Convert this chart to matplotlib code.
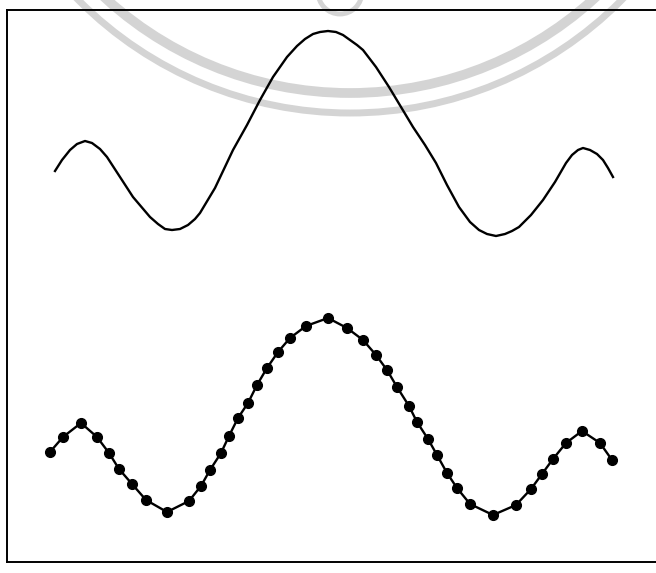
import numpy as np
import matplotlib.pyplot as plt
from matplotlib.patches import Arc

# top trace (smooth response), positions
x_top = [55, 62, 70, 77, 85, 92, 100, 107, 120, 133, 150, 158, 165, 172, 180,
         188, 195, 200, 215, 233, 247, 260, 273, 287, 297, 305, 313, 320, 328,
         336, 343, 350, 357, 363, 376, 389, 401, 413, 425, 436, 447, 459, 470,
         479, 487, 496, 505, 512, 519, 531, 543, 555, 566, 572, 578, 583, 590,
         597, 603, 608, 613]
y_top = [402, 413, 423, 429, 432, 430, 424, 416, 396, 376, 356, 349, 344, 343,
         344, 348, 354, 360, 385, 423, 448, 473, 496, 516, 527, 534, 539, 541,
         542, 541, 538, 533, 528, 523, 506, 486, 466, 446, 428, 410, 388, 366,
         351, 343, 339, 337, 339, 342, 346, 358, 373, 391, 410, 418, 423, 425,
         423, 419, 413, 405, 396]

# bottom trace (sampled points)
x_bot = [50, 63, 81, 97, 109, 119, 132, 146, 167, 189, 201, 210, 221, 229, 238,
         248, 257, 267, 278, 290, 306, 328, 347, 363, 376, 387, 397, 409, 417,
         428, 437, 447, 457, 470, 493, 516, 531, 542, 553, 566, 582, 600, 612]
y_bot = [121, 136, 150, 136, 120, 104, 89, 73, 61, 72, 87, 103, 120, 137, 155,
         170, 188, 205, 221, 235, 247, 255, 245, 233, 218, 203, 186, 167, 151,
         134, 118, 100, 85, 69, 58, 68, 84, 99, 114, 130, 142, 130, 113]

W, H = 656, 573
fig = plt.figure(figsize=(W / 100, H / 100), dpi=100)

# faint seal watermark behind the plot
bg = fig.add_axes([0, 0, 1, 1])
bg.set_xlim(0, W)
bg.set_ylim(0, H)
bg.axis("off")
for r, lw in [(363, 7), (383, 5)]:
    bg.add_patch(Arc((350, H + 270), 2 * r, 2 * r, theta1=180, theta2=360,
                     color="#d4d4d4", lw=lw))
bg.add_patch(Arc((340, H + 8), 44, 44, theta1=180, theta2=360,
                 color="#d4d4d4", lw=3.5))

left, bottom, top = 6.5, 11, 563
ax = fig.add_axes([left / W, bottom / H, 1.02, (top - bottom) / H])
ax.patch.set_alpha(0)
ax.set_xlim(left, left + 1.02 * W)
ax.set_ylim(bottom, top)

ax.plot(x_top, y_top, color="black", lw=1.7, solid_joinstyle="round")
ax.plot(x_bot, y_bot, color="black", lw=1.7, marker="o", ms=7,
        mfc="black", mec="black")

ax.spines["right"].set_visible(False)
for s in ["left", "top", "bottom"]:
    ax.spines[s].set_linewidth(1.4)
ax.set_xticks([])
ax.set_yticks([])

fig.savefig("out.png", dpi=100)
